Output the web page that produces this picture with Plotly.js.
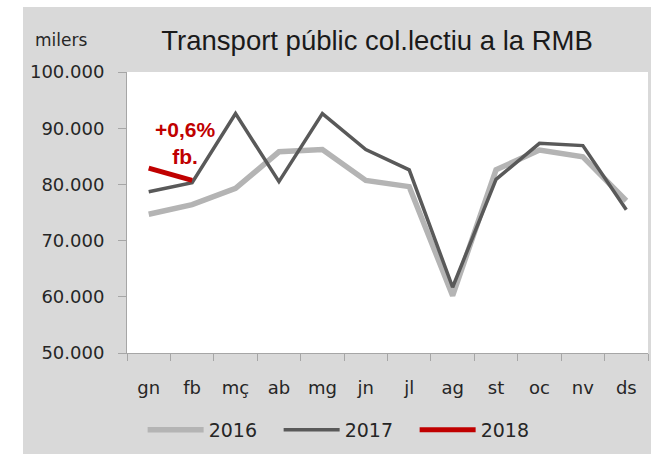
<!DOCTYPE html>
<html>
<head>
<meta charset="utf-8">
<script src="https://cdn.plot.ly/plotly-3.0.1.min.js"></script>
<style>html,body{margin:0;padding:0;background:#fff;}#chart{width:651px;height:454px;}</style>
</head>
<body>
<div id="chart"></div>
<script>
const months = ['gn','fb','mç','ab','mg','jn','jl','ag','st','oc','nv','ds'];
const v2016 = [74700, 76400, 79300, 85800, 86200, 80700, 79600, 60200, 82600, 86100, 84900, 77100];
const v2017 = [78700, 80300, 92600, 80500, 92600, 86200, 82600, 61700, 80900, 87300, 86900, 75500];
const v2018 = [82900, 80700];
const months2018 = ['gn','fb'];
const yTicks = [50000, 60000, 70000, 80000, 90000, 100000];

const font = 'DejaVu Sans, sans-serif';
const traces = [
  {x: months, y: v2016, name: '2016', type: 'scatter', mode: 'lines',
   line: {color: '#b4b4b4', width: 5.5}},
  {x: months, y: v2017, name: '2017', type: 'scatter', mode: 'lines',
   line: {color: '#595959', width: 3.5}},
  {x: months2018, y: v2018, name: '2018', type: 'scatter', mode: 'lines',
   line: {color: '#c00000', width: 5}}
];
const layout = {
  width: 651, height: 454,
  margin: {l: 127, r: 3, t: 72, b: 101, pad: 0},
  paper_bgcolor: '#d9d9d9',
  plot_bgcolor: '#ffffff',
  separators: ',.',
  showlegend: true,
  title: {text: 'Transport públic col.lectiu a la RMB', xref: 'paper', x: 0.48, xanchor: 'center',
          yref: 'container', y: 1 - 40/454, yanchor: 'middle',
          font: {family: 'Liberation Sans, Arial, sans-serif', size: 27.5, color: '#1a1a1a'}},
  xaxis: {type: 'category', range: [-0.5, 11.5], tickson: 'boundaries', ticks: 'outside', ticklen: 7, tickcolor: '#a6a6a6',
          showline: true, linecolor: '#a6a6a6', linewidth: 1, showgrid: false, zeroline: false,
          ticklabelstandoff: 18,
          tickfont: {family: font, size: 18, color: '#262626'}, fixedrange: true},
  yaxis: {range: [50000, 100000], tickvals: yTicks, tickformat: ',d', ticks: 'outside', ticklen: 8,
          tickcolor: '#a6a6a6', showline: true, linecolor: '#a6a6a6', linewidth: 1,
          showgrid: false, zeroline: false, ticklabelstandoff: 10,
          tickfont: {family: font, size: 18, color: '#262626'}, fixedrange: true},
  legend: {orientation: 'h', x: 0.03, xanchor: 'left', y: -0.274, yanchor: 'middle',
           bgcolor: 'rgba(0,0,0,0)', font: {family: font, size: 19, color: '#262626'},
           itemwidth: 56, entrywidth: 65, traceorder: 'normal'},
  shapes: [
    {type: 'rect', xref: 'paper', yref: 'paper', x0: -0.3, x1: -0.1996, y0: -0.5, y1: 1.4,
     fillcolor: '#ffffff', line: {width: 0}, layer: 'below'},
    {type: 'rect', xref: 'paper', yref: 'paper', x0: -0.3, x1: 1.1, y0: 1.2313, y1: 1.4,
     fillcolor: '#ffffff', line: {width: 0}, layer: 'below'}
  ],
  annotations: [
    {text: 'milers', xref: 'paper', yref: 'paper', x: -0.1267, y: 1.114, xanchor: 'center', yanchor: 'middle',
     showarrow: false, font: {family: font, size: 17, color: '#262626'}},
    {text: '+0,6%<br>fb.', xref: 'paper', yref: 'paper', x: 0.112, y: 0.749, xanchor: 'center', yanchor: 'middle',
     showarrow: false, align: 'center',
     font: {family: 'Liberation Sans, Arial, sans-serif', size: 21, color: '#c00000', weight: 'bold'}}
  ]
};
Plotly.newPlot('chart', traces, layout, {displayModeBar: false, staticPlot: true});
</script>
</body>
</html>
